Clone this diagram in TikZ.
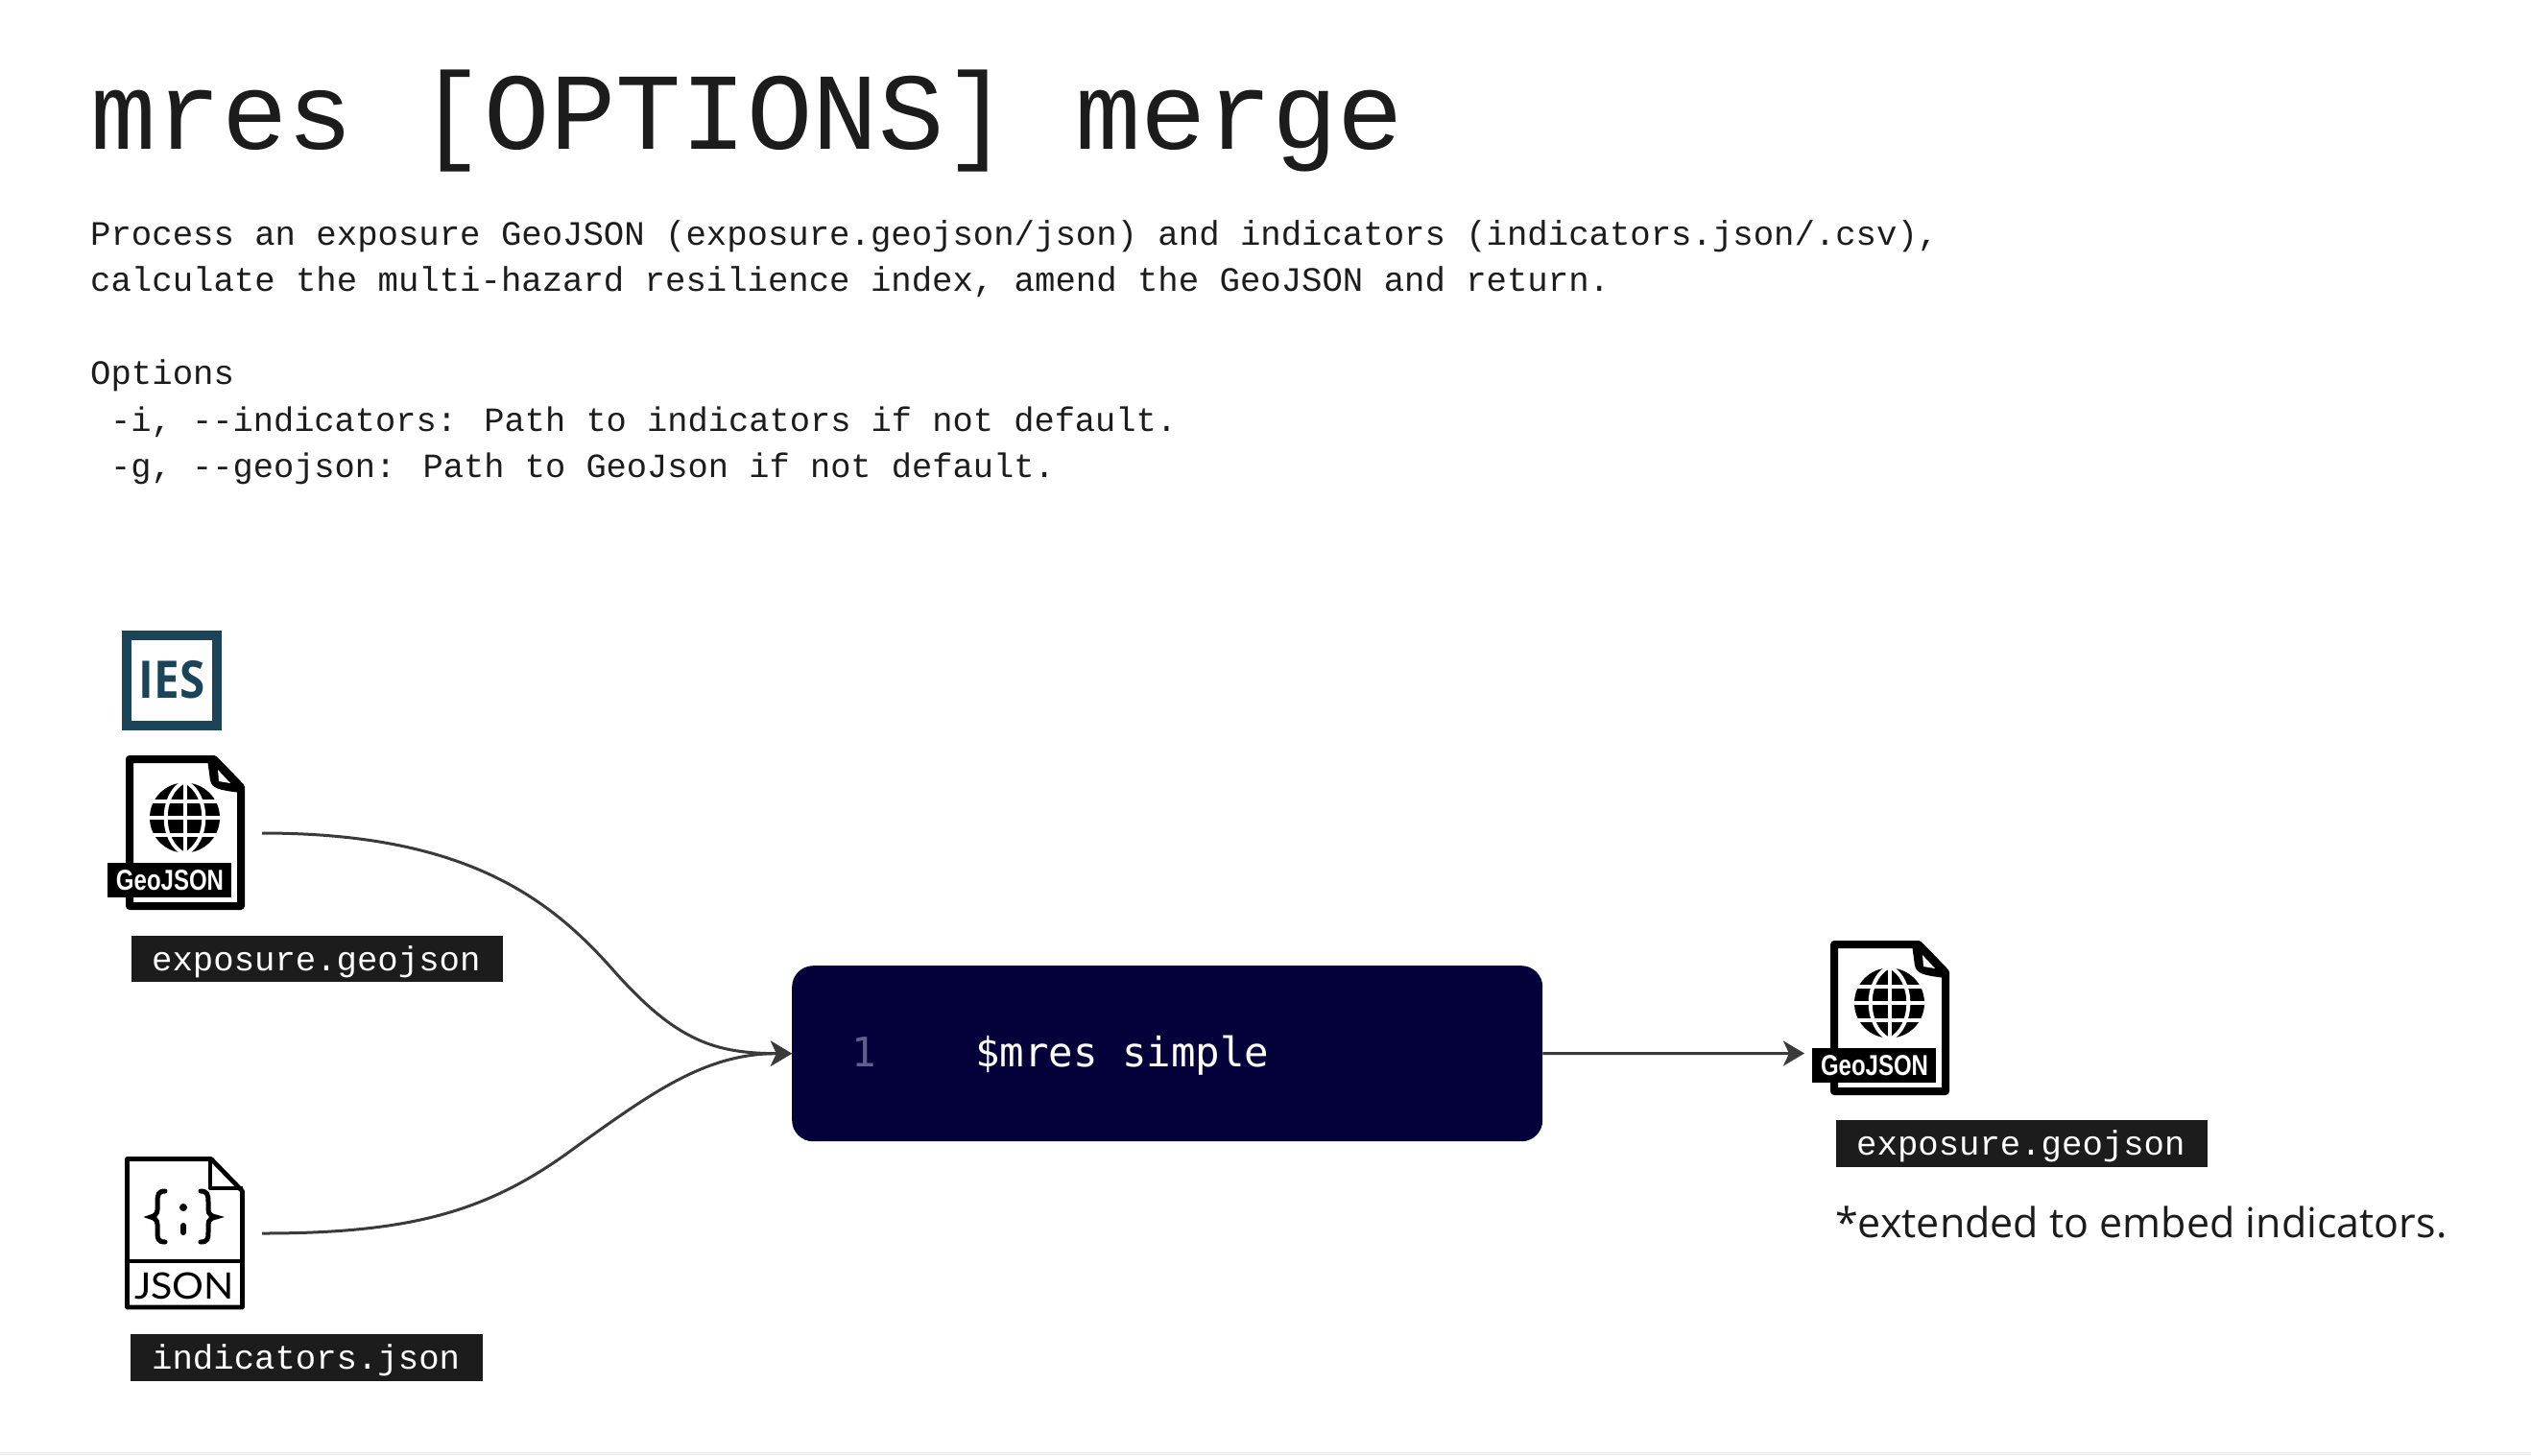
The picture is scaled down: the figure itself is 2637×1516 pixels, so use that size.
\documentclass[tikz,border=0pt]{standalone}
\usepackage{fontspec}
\setmainfont{Open Sans}
\newfontfamily\plexm{Liberation Mono}
\newfontfamily\robom{DejaVu Sans Mono}
\newfontfamily\iconsans{Liberation Sans}
\newfontfamily\jsonsans{Lato}
\usetikzlibrary{arrows.meta}
\definecolor{ink}{HTML}{1C1C1C}
\definecolor{navy}{HTML}{04003A}
\definecolor{lineno}{HTML}{5F5E8C}
\definecolor{iesblue}{HTML}{1B4459}
\definecolor{wire}{HTML}{3A3A3A}
\tikzset{
  x=1pt,y=-1pt,
  bodytext/.style={anchor=base west,inner sep=0pt,font=\plexm\fontsize{35.65}{36}\selectfont,text=ink},
  opttext/.style={anchor=base west,inner sep=0pt,font=\plexm\fontsize{35.38}{36}\selectfont,text=ink},
  tagbox/.style={anchor=north west,fill=ink,inner sep=0pt},
  tagtext/.style={anchor=base west,inner sep=0pt,text=white,font=\plexm\fontsize{35.65}{36}\selectfont},
  wirearrow/.style={draw=wire,line width=3pt,-{Stealth[length=22pt,width=26pt,inset=6pt]}},
}
\newcommand{\geofile}[2]{%
  \begin{scope}[shift={(#1,#2)}]
    \draw[line width=8pt,line join=round,fill=white] (4,4) -- (92,4) -- (120,33) -- (120,157) -- (4,157) -- cycle;
    \fill[black] (85,4) -- (88,26) .. controls (90,34) and (95,36) .. (120,39) -- (120,30) -- (92,2) -- cycle;
    \fill[white] (96,15) -- (109,29) -- (97,27) -- cycle;
    \fill[black] (61.5,65) circle (36.5);
    \draw[white,line width=4pt] (61.5,26) -- (61.5,104) (22,65) -- (101,65) (22,47.5) -- (101,47.5) (22,82.5) -- (101,82.5);
    \draw[white,line width=4pt] (61.5,27) .. controls (35,40) and (35,90) .. (61.5,103) .. controls (88,90) and (88,40) .. (61.5,27);
    \fill[black] (-19,112) rectangle (110,148);
    \node[anchor=center,inner sep=0pt,text=white,font=\iconsans\bfseries\fontsize{30}{30}\selectfont,xscale=.8] at (46,130) {GeoJSON};
  \end{scope}}

\begin{document}
\begin{tikzpicture}
\useasboundingbox (0,0) rectangle (2637,1516);
\fill[white] (0,0) rectangle (2637,1516);
\fill[black!6] (0,1513) rectangle (2637,1516);

\node[anchor=base west,inner sep=0pt,font=\plexm\fontsize{114}{114}\selectfont,text=ink] (title) at (94,155) {mres [OPTIONS] merge};
\node[bodytext] (l1) at (94,255) {Process an exposure GeoJSON (exposure.geojson/json) and indicators (indicators.json/.csv),};
\node[bodytext] (l2) at (94,303.5) {calculate the multi-hazard resilience index, amend the GeoJSON and return.};
\node[bodytext] (l3) at (94,400.5) {Options};
\node[opttext] (l4) at (115,449) {-i, --indicators: Path to indicators if not default.};
\node[opttext] (l5) at (115,497.5) {-g, --geojson: Path to GeoJson if not default.};

% IES logo
\draw[iesblue,line width=10pt] (132,662) rectangle (226,756);
\node[anchor=center,inner sep=0pt,text=iesblue,font=\bfseries\fontsize{54}{54}\selectfont,xscale=.88] (ies) at (179,708) {IES};

% input GeoJSON
\geofile{131}{787}
\coordinate (geoout) at (273,868);
\node[tagbox,minimum width=387pt,minimum height=48pt] (tagA) at (137,975) {};
\node[tagtext] at (158,1011) {exposure.geojson};

% input JSON
\draw[line width=4.7pt,line join=round,fill=white] (132.5,1207.5) -- (220,1207.5) -- (252.5,1241) -- (252.5,1362) -- (132.5,1362) -- cycle;
\draw[line width=4.7pt,line join=round] (219,1207.5) -- (219,1238) -- (252.5,1238);
\draw[line width=4.7pt] (132.5,1314) -- (252.5,1314);
\draw[line width=5pt,line cap=round] (172,1241) .. controls (165,1241) and (164,1245) .. (164,1252) -- (164,1260) .. controls (164,1265) and (161,1267) .. (157,1268) .. controls (161,1269) and (164,1271) .. (164,1276) -- (164,1284) .. controls (164,1291) and (165,1294) .. (172,1294);
\draw[line width=5pt,line cap=round] (209,1241) .. controls (216,1241) and (217,1245) .. (217,1252) -- (217,1260) .. controls (217,1265) and (220,1267) .. (225,1268) .. controls (220,1269) and (217,1271) .. (217,1276) -- (217,1284) .. controls (217,1291) and (216,1294) .. (209,1294);
\fill (191,1258) circle (4pt);
\draw[line width=6pt,line cap=round] (191,1277) -- (191,1284);
\node[anchor=center,inner sep=0pt,font=\jsonsans\fontsize{38}{38}\selectfont,text=black,xscale=1.08] (jsonlabel) at (192,1340) {JSON};
\coordinate (jsonout) at (273,1285);
\node[tagbox,minimum width=367pt,minimum height=49pt] (tagB) at (136,1390) {};
\node[tagtext] at (158,1426) {indicators.json};

% command box
\node[anchor=north west,fill=navy,rounded corners=22pt,minimum width=782pt,minimum height=183pt,inner sep=0pt] (cmd) at (825,1006) {};
\node[anchor=base west,inner sep=0pt,text=lineno,font=\robom\fontsize{42.4}{43}\selectfont] at (887,1111) {1};
\node[anchor=base west,inner sep=0pt,text=white,font=\robom\fontsize{42.4}{43}\selectfont] at (1016,1111) {\$mres simple};

% output GeoJSON
\geofile{1907}{980}
\node[tagbox,minimum width=387pt,minimum height=49pt] (tagC) at (1912.5,1167) {};
\node[tagtext] at (1934,1203) {exposure.geojson};
\coordinate (outin) at (1880,1097.5);
\node[anchor=base west,inner sep=0pt,font=\fontsize{43}{43}\selectfont,text=ink] (note) at (1912,1289) {*extended to embed indicators.};

% connectors
\draw[wirearrow] (geoout) .. controls (480,868) and (570,932) .. (640,1012) .. controls (705,1085) and (745,1097.5) .. (cmd.west);
\draw[wirearrow] (jsonout) .. controls (430,1285) and (510,1262) .. (600,1195) .. controls (680,1138) and (735,1097.5) .. (cmd.west);
\draw[wirearrow] (cmd.east) -- (outin);
\end{tikzpicture}
\end{document}
